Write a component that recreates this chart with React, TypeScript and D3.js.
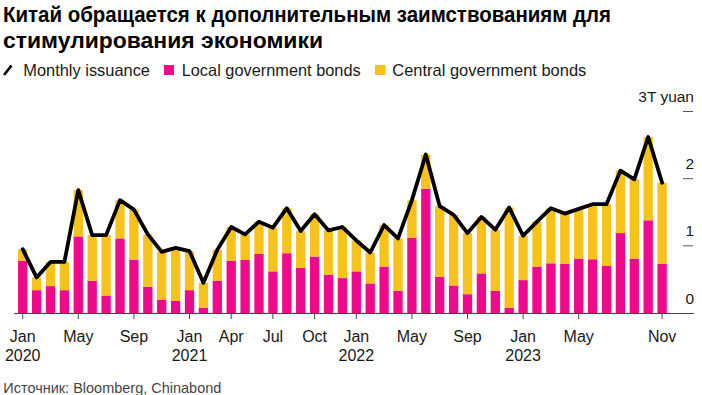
import React from "react";
import * as d3 from "d3";

const months: string[] = d3.range(47).map((i) => {
  const y = 2020 + Math.floor(i / 12);
  const m = (i % 12) + 1;
  return `${y}-${String(m).padStart(2, "0")}`;
});

const localBonds: number[] = [
  0.78, 0.34, 0.40, 0.34, 1.14, 0.48, 0.26, 1.11, 0.79, 0.39, 0.20, 0.18,
  0.34, 0.08, 0.48, 0.78, 0.79, 0.88, 0.62, 0.89, 0.67, 0.84, 0.57, 0.52,
  0.62, 0.44, 0.69, 0.33, 1.12, 1.85, 0.54, 0.41, 0.28, 0.59, 0.33, 0.08,
  0.49, 0.69, 0.74, 0.73, 0.81, 0.80, 0.70, 1.19, 0.81, 1.38, 0.73,
];

const centralBonds: number[] = [
  0.17, 0.19, 0.36, 0.42, 0.69, 0.68, 0.90, 0.57, 0.75, 0.78, 0.71, 0.79,
  0.58, 0.37, 0.46, 0.50, 0.38, 0.48, 0.65, 0.67, 0.55, 0.63, 0.66, 0.76,
  0.46, 0.46, 0.62, 0.78, 0.56, 0.51, 1.05, 1.05, 0.91, 0.84, 0.91, 1.49,
  0.66, 0.67, 0.82, 0.75, 0.74, 0.82, 0.92, 0.93, 1.18, 1.24, 1.21,
];

const xTickMonths: string[] = [
  "2020-01", "2020-05", "2020-09", "2021-01", "2021-04", "2021-07", "2021-10",
  "2022-01", "2022-05", "2022-09", "2023-01", "2023-05", "2023-11",
];
const xTickLabels: string[] = [
  "Jan", "May", "Sep", "Jan", "Apr", "Jul", "Oct", "Jan", "May", "Sep", "Jan", "May", "Nov",
];
const xTickYears: string[] = [
  "2020", "", "", "2021", "", "", "", "2022", "", "", "2023", "", "",
];

const yTicks: number[] = [0, 1, 2, 3];
const yTickLabels: string[] = ["0", "1", "2", "3T yuan"];

const title1 = "Китай обращается к дополнительным заимствованиям для";
const title2 = "стимулирования экономики";
const source = "Источник: Bloomberg, Chinabond";

const PINK = "#ee0a8b";
const YELLOW = "#f8c21c";
const FONT = "'Liberation Sans', Arial, sans-serif";

export default function App() {
  const W = 702;
  const H = 395;
  const x = d3
    .scaleBand<string>()
    .domain(months)
    .range([15.75, 669.05])
    .paddingInner(0.33)
    .paddingOuter(0.165);
  const y = d3.scaleLinear().domain([0, 3]).range([313, 111.5]);
  const bw = x.bandwidth();
  const cx = (m: string) => (x(m) as number) + bw / 2;

  const totals = localBonds.map((v, i) => v + centralBonds[i]);
  const line = d3
    .line<number>()
    .x((_, i) => cx(months[i]))
    .y((d) => y(d));

  return (
    <svg
      width={W}
      height={H}
      style={{ position: "absolute", left: 0, top: 0, background: "#fff" }}
      fontFamily={FONT}
    >
      <rect width={W} height={H} fill="#fff" />
      <text x={3} y={21.7} fontSize={22} fontWeight="bold" fill="#000"
        textLength={608} lengthAdjust="spacingAndGlyphs">
        {title1}
      </text>
      <text x={3} y={48.3} fontSize={22} fontWeight="bold" fill="#000"
        textLength={320} lengthAdjust="spacingAndGlyphs">
        {title2}
      </text>

      {/* legend */}
      <g fontSize={16.5} fill="#1a1a1a">
        <line x1={4} y1={75} x2={11.5} y2={65.5} stroke="#000" strokeWidth={2.6} />
        <text x={23.3} y={75.6} textLength={126.7} lengthAdjust="spacingAndGlyphs">
          Monthly issuance
        </text>
        <rect x={164} y={65} width={10} height={10} fill={PINK} />
        <text x={181.7} y={75.6} textLength={179} lengthAdjust="spacingAndGlyphs">
          Local government bonds
        </text>
        <rect x={375} y={65} width={10.5} height={10} fill={YELLOW} />
        <text x={392.3} y={75.6} textLength={194} lengthAdjust="spacingAndGlyphs">
          Central government bonds
        </text>
      </g>

      {/* bars */}
      {months.map((m, i) => (
        <g key={m}>
          <rect
            x={x(m)}
            y={y(localBonds[i])}
            width={bw}
            height={y(0) - y(localBonds[i])}
            fill={PINK}
          />
          <rect
            x={x(m)}
            y={y(totals[i])}
            width={bw}
            height={y(localBonds[i]) - y(totals[i])}
            fill={YELLOW}
          />
        </g>
      ))}

      {/* line */}
      <path
        d={line(totals) || ""}
        fill="none"
        stroke="#000"
        strokeWidth={3.8}
        strokeLinejoin="round"
        strokeLinecap="round"
      />

      {/* x axis */}
      <line x1={14} x2={694} y1={y(0) + 0.5} y2={y(0) + 0.5} stroke="#444" strokeWidth={1} />
      {xTickMonths.map((m, i) => (
        <g key={m} transform={`translate(${cx(m)},0)`}>
          <line y1={y(0)} y2={y(0) + 6} stroke="#444" strokeWidth={1} />
          <text y={341.7} textAnchor="middle" fontSize={16} fill="#1a1a1a">
            {xTickLabels[i]}
          </text>
          {xTickYears[i] && (
            <text y={360.7} textAnchor="middle" fontSize={16} fill="#1a1a1a">
              {xTickYears[i]}
            </text>
          )}
        </g>
      ))}

      {/* y axis */}
      {yTicks.map((t, i) => (
        <g key={t}>
          {t > 0 && (
            <line x1={683} x2={693} y1={y(t)} y2={y(t)} stroke="#555" strokeWidth={1} />
          )}
          <text x={694} y={y(t) - 9.5} textAnchor="end" fontSize={15.5} fill="#1a1a1a">
            {yTickLabels[i]}
          </text>
        </g>
      ))}

      <text x={3.3} y={392.7} fontSize={14.5} fill="#444" textLength={218} lengthAdjust="spacingAndGlyphs">
        {source}
      </text>
    </svg>
  );
}
